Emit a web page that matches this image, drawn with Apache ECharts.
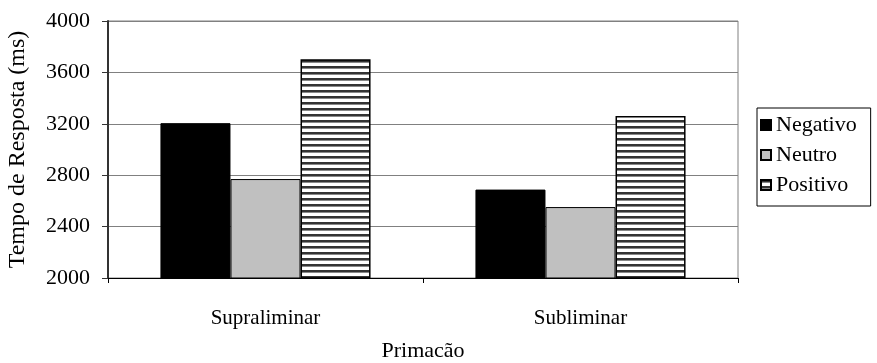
<!DOCTYPE html>
<html>
<head>
<meta charset="utf-8">
<script src="https://cdn.jsdelivr.net/npm/echarts@6/dist/echarts.min.js"></script>
<style>
  html, body { margin: 0; padding: 0; background: #fff; }
  #chart { width: 877px; height: 363px; }
</style>
</head>
<body>
<div id="chart"></div>
<script>
const categories = ['Supraliminar', 'Subliminar']
const negativo = [3205, 2688]
const neutro = [2770, 2552]
const positivo = [3702, 3260]
const yTicks = [2000, 2400, 2800, 3200, 3600, 4000]

// horizontal stripes like the old excel fill
function stripes() {
  const c = document.createElement('canvas')
  c.width = 6
  c.height = 6
  const ctx = c.getContext('2d')
  ctx.fillStyle = '#fff'
  ctx.fillRect(0, 0, 6, 6)
  ctx.fillStyle = '#333'
  ctx.fillRect(0, 0, 6, 2)
  ctx.fillStyle = '#888'
  ctx.fillRect(0, 2, 6, 1)
  return c
}

const font = 'Liberation Serif, Times New Roman, serif'
const chart = echarts.init(document.getElementById('chart'))

const barBase = {
  type: 'bar',
  barGap: '0%',
  barCategoryGap: '33.3%',
  animation: false
}

chart.setOption({
  textStyle: { fontFamily: font, color: '#000' },
  grid: {
    left: 108,
    right: 139,
    top: 21,
    bottom: 85,
    outerBoundsMode: 'none',
    show: true,
    borderColor: '#808080',
    borderWidth: 1
  },
  legend: {
    orient: 'vertical',
    left: 757,
    top: 108,
    itemWidth: 10,
    itemHeight: 10,
    itemGap: 8,
    padding: [6, 14, 10, 3],
    borderColor: '#000',
    borderWidth: 1,
    borderRadius: 0,
    textStyle: { fontFamily: font, fontSize: 22, color: '#000' },
    data: [
      { name: 'Negativo', icon: 'rect' },
      { name: 'Neutro', icon: 'rect' },
      { name: 'Positivo', icon: 'rect' }
    ]
  },
  xAxis: {
    type: 'category',
    data: categories,
    name: 'Primacão',
    nameLocation: 'middle',
    nameGap: 62,
    nameTextStyle: { fontFamily: font, fontSize: 22, color: '#000' },
    axisLine: { lineStyle: { color: '#000', width: 1 } },
    axisTick: { show: true, length: 5, alignWithLabel: false, lineStyle: { color: '#000' } },
    axisLabel: { margin: 30, fontFamily: font, fontSize: 21, color: '#000' },
    splitLine: { show: false }
  },
  yAxis: {
    type: 'value',
    min: yTicks[0],
    max: yTicks[yTicks.length - 1],
    interval: 400,
    name: 'Tempo de Resposta (ms)',
    nameLocation: 'middle',
    nameGap: 78,
    nameTextStyle: { fontFamily: font, fontSize: 24, color: '#000' },
    axisLine: { show: true, lineStyle: { color: '#333', width: 2 } },
    axisTick: { show: true, length: 6, lineStyle: { color: '#333' } },
    axisLabel: {
      margin: 18,
      fontFamily: font,
      fontSize: 22,
      color: '#000',
      formatter: v => String(v)
    },
    splitLine: { show: true, lineStyle: { color: '#808080', width: 1 } }
  },
  series: [
    Object.assign({}, barBase, {
      name: 'Negativo',
      data: negativo,
      itemStyle: { color: '#000', borderColor: '#000', borderWidth: 1 }
    }),
    Object.assign({}, barBase, {
      name: 'Neutro',
      data: neutro,
      itemStyle: { color: '#c0c0c0', borderColor: '#000', borderWidth: 1 }
    }),
    Object.assign({}, barBase, {
      name: 'Positivo',
      data: positivo,
      itemStyle: {
        color: { image: stripes(), repeat: 'repeat' },
        borderColor: '#000',
        borderWidth: 1.5
      }
    })
  ]
})
</script>
</body>
</html>
